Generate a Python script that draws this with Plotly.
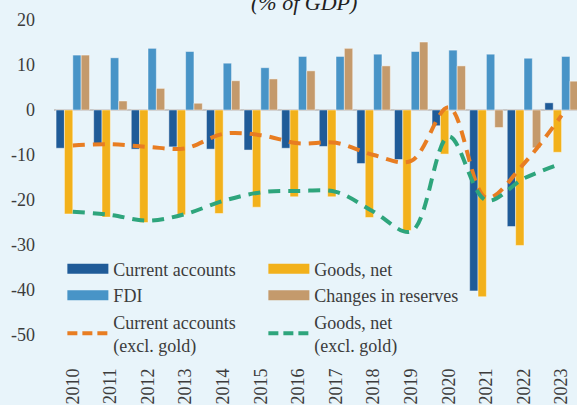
import plotly.graph_objects as go

years = ["2010", "2011", "2012", "2013", "2014", "2015", "2016",
         "2017", "2018", "2019", "2020", "2021", "2022", "2023"]
current_accounts = [-8.5, -8.0, -8.7, -8.2, -8.7, -8.9, -8.5, -8.1, -11.9, -11.0, -3.5, -40.2, -25.9, 1.6]
goods_net = [-23.1, -23.8, -25.0, -23.3, -23.0, -21.6, -19.3, -19.3, -23.9, -26.8, -9.8, -41.5, -30.1, -9.4]
fdi = [12.2, 11.6, 13.7, 13.0, 10.4, 9.4, 11.9, 11.9, 12.4, 13.0, 13.3, 12.4, 11.5, 11.9]
reserves = [12.2, 2.0, 4.8, 1.5, 6.5, 6.9, 8.7, 13.7, 9.8, 15.1, 9.8, -3.9, -8.4, 6.4]
ca_excl_gold = [-7.9, -7.6, -8.2, -8.5, -5.3, -5.6, -7.4, -7.3, -10.0, -11.3, 0.6, -19.5, -11.9, -1.2]
goods_excl_gold = [-22.6, -23.3, -24.6, -23.1, -20.2, -18.3, -18.0, -18.2, -22.6, -27.0, -5.9, -20.1, -15.2, -11.9]
y_tick_values = [-50, -40, -30, -20, -10, 0, 10, 20]
y_tick_labels = ["-50", "-40", "-30", "-20", "-10", "0", "10", "20"]

C_CA = "#1F5B98"
C_GOODS = "#F2B11B"
C_FDI = "#4894C7"
C_RES = "#C49A6C"
C_ORANGE = "#E87D22"
C_GREEN = "#2EA57C"
BG = "#E8F4FA"
TXT = "#3C3C3C"
FONT = "Liberation Serif"

fig = go.Figure()
bar_edge = dict(color="rgba(255,255,255,0.45)", width=1)
for name, vals, col in [("Current accounts", current_accounts, C_CA),
                        ("Goods, net", goods_net, C_GOODS),
                        ("FDI", fdi, C_FDI),
                        ("Changes in reserves", reserves, C_RES)]:
    fig.add_trace(go.Bar(x=years, y=vals, name=name, marker_color=col,
                         marker_line=bar_edge, showlegend=False, legendgroup=name))

for name, vals, col in [("Current accounts<br>(excl. gold)", ca_excl_gold, C_ORANGE),
                        ("Goods, net<br>(excl. gold)", goods_excl_gold, C_GREEN)]:
    fig.add_trace(go.Scatter(x=years, y=vals, mode="lines", name=name,
                             line=dict(color=col, width=4, dash="12px,8px", shape="spline", smoothing=1),
                             showlegend=False, legendgroup=name))

# legend entries (wide rectangles / dashed lines)
legend_items = [("Current accounts", C_CA, "solid", 10),
                ("Goods, net", C_GOODS, "solid", 10),
                ("FDI", C_FDI, "solid", 10),
                ("Changes in reserves", C_RES, "solid", 10),
                ("Current accounts<br>(excl. gold)", C_ORANGE, "10px,5px", 4),
                ("Goods, net<br>(excl. gold)", C_GREEN, "10px,5px", 4)]
for name, col, dash, w in legend_items:
    fig.add_trace(go.Scatter(x=[None], y=[None], mode="lines", name=name,
                             line=dict(color=col, width=w, dash=dash),
                             legendgroup=name, showlegend=True))

fig.add_annotation(text="<i>(% of GDP)</i>", xref="paper", yref="paper",
                   x=0.478, y=1.0, xanchor="center", yanchor="middle", yshift=-2,
                   showarrow=False, font=dict(family=FONT, size=22, color="#222222"))

fig.update_layout(
    width=577, height=405,
    margin=dict(l=54, r=0, t=0, b=47, pad=0),
    paper_bgcolor=BG, plot_bgcolor=BG,
    barmode="group", bargap=0.11, bargroupgap=0,
    font=dict(family=FONT, size=18, color=TXT),
    legend=dict(orientation="h", x=0.016, y=0.30, xanchor="left", yanchor="top",
                bgcolor="rgba(0,0,0,0)", font=dict(family=FONT, size=18, color=TXT),
                itemwidth=41, entrywidth=145, entrywidthmode="pixels", traceorder="normal",
                itemclick=False, itemdoubleclick=False),
)
fig.update_xaxes(range=[-0.5, 13.41], tickangle=-90, showgrid=False, showline=False,
                 zeroline=False, ticks="", automargin=False, ticklabelstandoff=6,
                 tickfont=dict(size=18, color=TXT))
fig.update_yaxes(range=[-55.11, 24.44], tickvals=y_tick_values, ticktext=y_tick_labels,
                 showgrid=False, zeroline=True, zerolinecolor="#C8C8C8", zerolinewidth=2,
                 showline=False, ticks="", ticklabelstandoff=18, automargin=False,
                 tickfont=dict(size=18, color=TXT))

fig.write_html("out.html", config={"displayModeBar": False},
               post_script="document.body.style.margin='0px';document.body.style.overflow='hidden';")
